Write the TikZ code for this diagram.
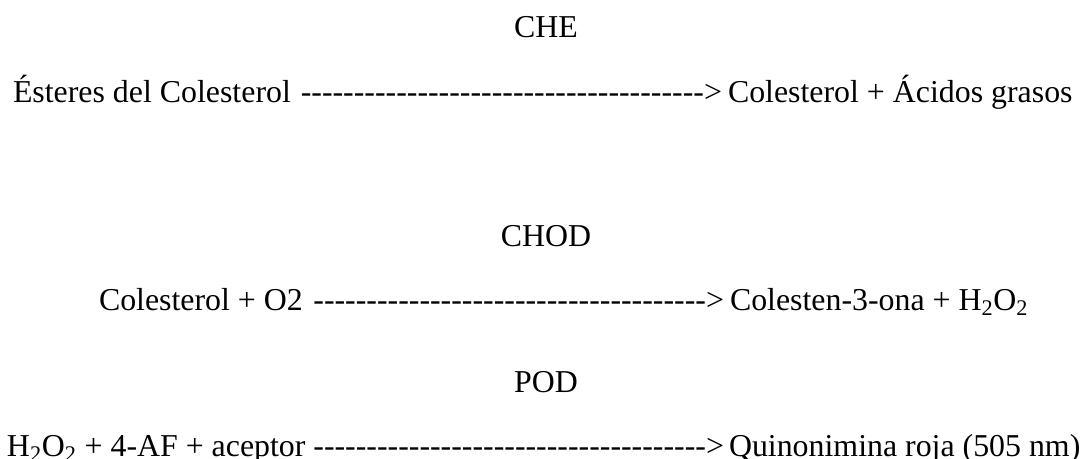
\documentclass[tikz,border=0pt]{standalone}
\usepackage{fontspec}
\setmainfont{Liberation Serif}
\tikzset{
  txt/.style={inner sep=0pt, outer sep=0pt, font=\fontsize{23.9}{29}\selectfont},
  enzyme/.style={txt, anchor=base},
  lhs/.style={txt, anchor=base west},
  arr/.style={txt, anchor=base east},
  rhs/.style={txt, anchor=base west}
}
\newcommand{\dashrun}[1]{\foreach \i in {1,...,#1}{\mbox{-}}\mbox{>}}
\begin{document}
\begin{tikzpicture}[x=0.75pt, y=-0.75pt]
\useasboundingbox (0,0) rectangle (1086,459);
% CHE
\node[enzyme] (che) at (546,38) {CHE};
\node[lhs] (r1l) at (13,103) {Ésteres del Colesterol};
\node[arr] (r1a) at (722,103) {\dashrun{38}};
\node[rhs] (r1r) at (728,103) {Colesterol + Ácidos grasos};
% CHOD
\node[enzyme] (chod) at (546,247) {CHOD};
\node[lhs] (r2l) at (99,311) {Colesterol + O2};
\node[arr] (r2a) at (724,311) {\dashrun{37}};
\node[rhs] (r2r) at (730,311) {Colesten-3-ona + H\textsubscript{2}O\textsubscript{2}};
% POD
\node[enzyme] (pod) at (546,393) {POD};
\node[lhs] (r3l) at (7,457) {H\textsubscript{2}O\textsubscript{2} + 4-AF + aceptor};
\node[arr] (r3a) at (724,457) {\dashrun{37}};
\node[rhs] (r3r) at (729,457) {Quinonimina roja (505 nm)};
\end{tikzpicture}
\end{document}
